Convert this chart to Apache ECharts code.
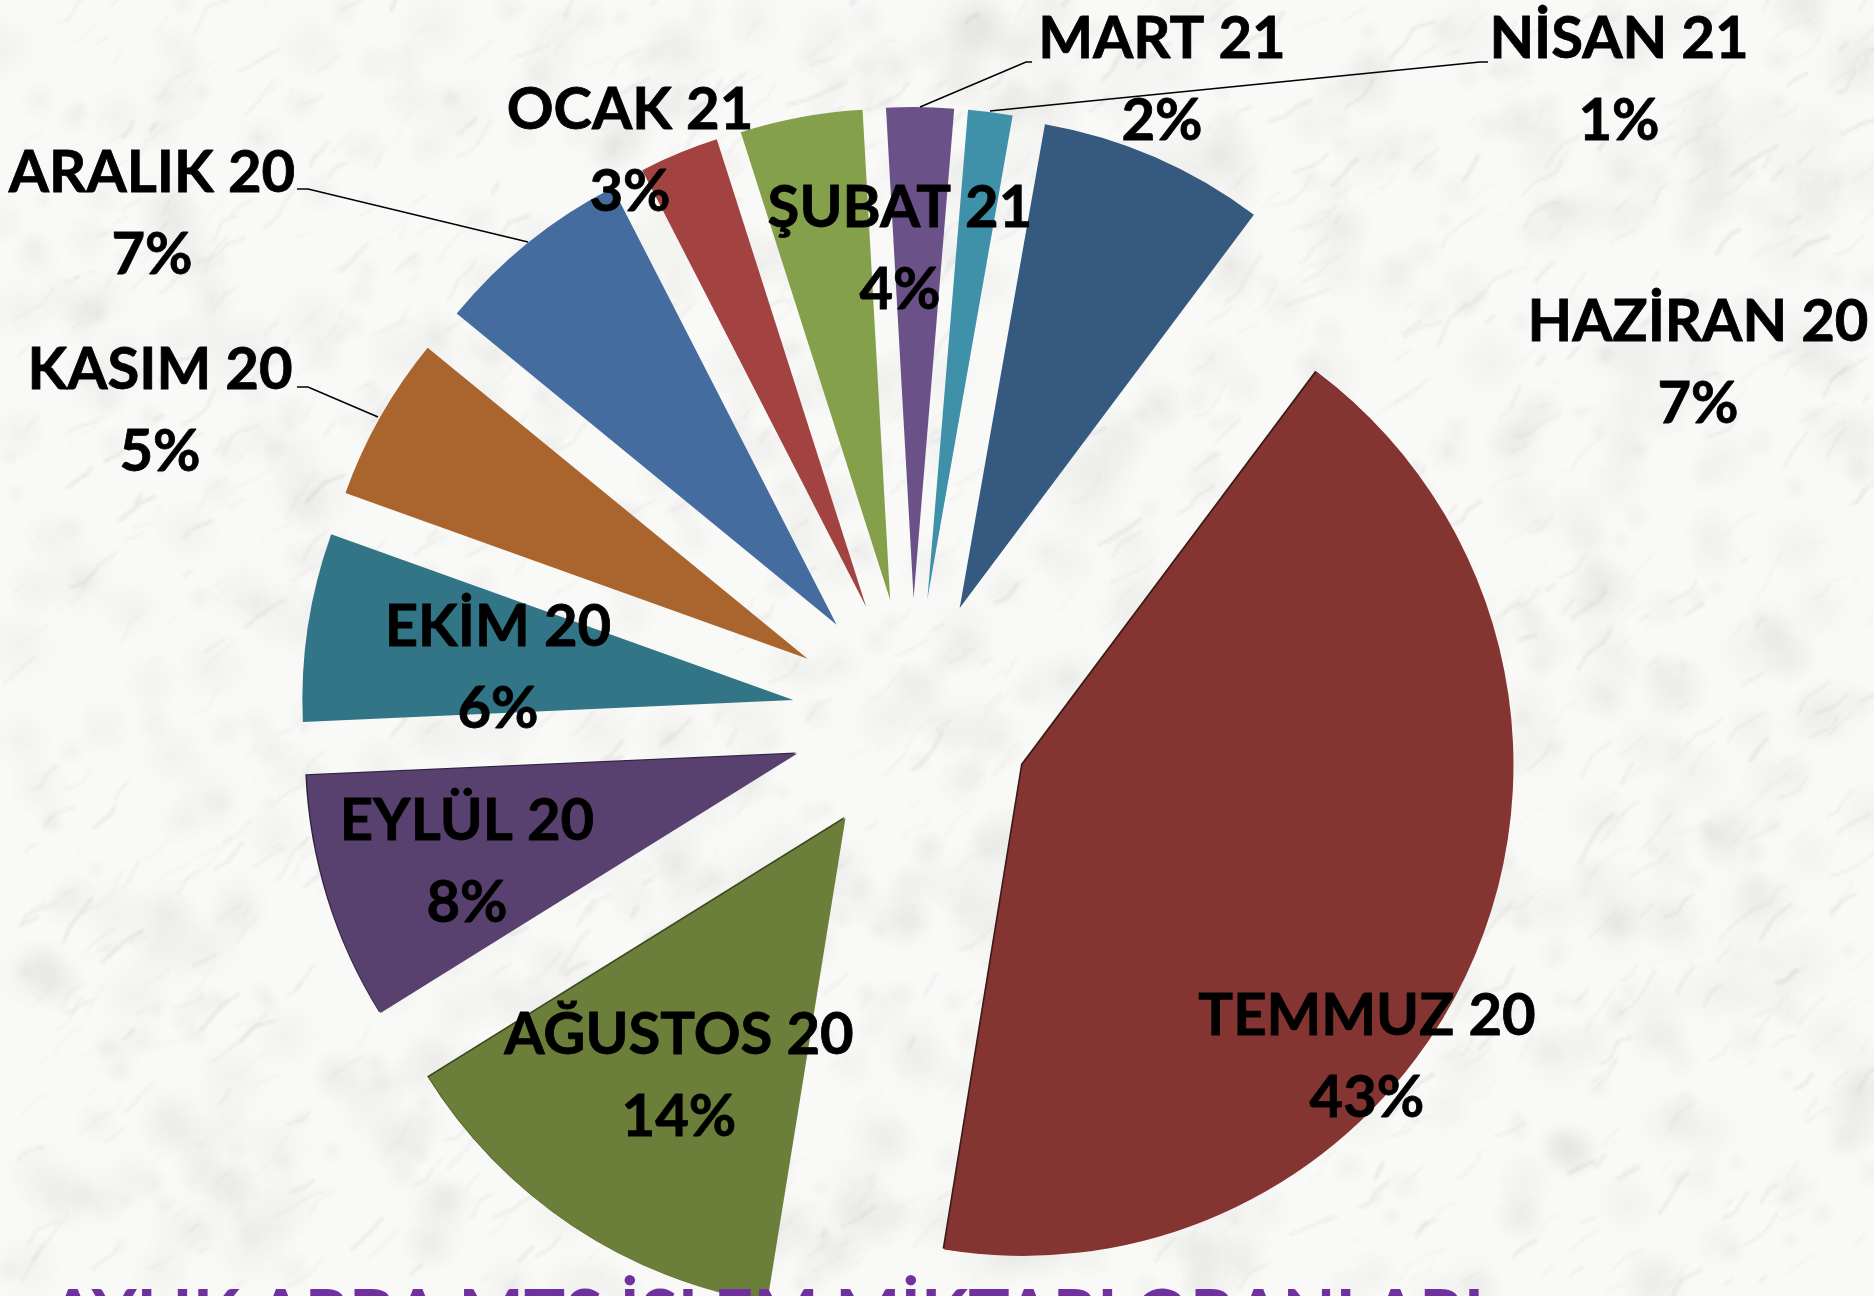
<!DOCTYPE html>
<html>
<head>
<meta charset="utf-8">
<title>AYLIK ARBA MTS İŞLEM MİKTARI ORANLARI</title>
<style>
  html, body { margin: 0; padding: 0; background: #f6f6f5; overflow: hidden; }
  #chart { width: 1874px; height: 1296px; }
</style>
<script src="https://cdn.jsdelivr.net/npm/echarts@6/dist/echarts.min.js"></script>
</head>
<body>
<div id="chart"></div>
<script>
// Values, clockwise from HAZİRAN 20
const months = ['HAZİRAN 20', 'TEMMUZ 20', 'AĞUSTOS 20', 'EYLÜL 20', 'EKİM 20', 'KASIM 20', 'ARALIK 20', 'OCAK 21', 'ŞUBAT 21', 'MART 21', 'NİSAN 21']
const shares = [7.4, 42.05, 13.5, 8.1, 6.15, 5.4, 6.5, 2.6, 4.0, 2.2, 1.45]
const percentLabels = [7, 43, 14, 8, 6, 5, 7, 3, 4, 2, 1]

const colors = ['#36597f', '#843532', '#6b7f3a', '#58406f', '#317587', '#a9652d', '#446c9f', '#a34341', '#84a04a', '#6a5289', '#3f91a9']
// only the three big lower slices have the dark edge
const edgeColors = { 1: '#3d1b1a', 2: '#3c4a20', 3: '#2e2140' }

// where the labels were placed by hand in the original, same order as months
const labelCenters = [
  [1698, 363], [1367, 1057], [679, 1076], [467, 862], [498, 668], [160, 411],
  [152, 214], [630, 151], [900, 249], [1162, 80], [1619, 80]
]
const leaderLines = [
  [[528, 242], [308, 189], [297, 189]],
  [[378, 417], [308, 387], [297, 387]],
  [[920, 107], [1026, 62], [1032, 62]],
  [[990, 111], [1480, 62], [1488, 62]]
]

// marble-ish background, only a texture. Drawn small and scaled up so it comes out soft
const makeMarble = () => {
  const small = document.createElement('canvas')
  small.width = 625
  small.height = 432
  const ctx = small.getContext('2d')
  let seed = 20210
  const rnd = () => {
    seed = (seed * 16807) % 2147483647
    return seed / 2147483647
  }
  ctx.fillStyle = '#f9f9f8'
  ctx.fillRect(0, 0, small.width, small.height)
  for (let i = 0; i < 1100; i++) {
    const x = rnd() * small.width
    const y = rnd() * small.height
    const r = 3 + rnd() * 11
    const g = ctx.createRadialGradient(x, y, 0, x, y, r)
    g.addColorStop(0, 'rgba(195,195,190,0.14)')
    g.addColorStop(1, 'rgba(195,195,190,0)')
    ctx.fillStyle = g
    ctx.fillRect(x - r, y - r, r * 2, r * 2)
  }
  ctx.lineCap = 'round'
  for (let i = 0; i < 1300; i++) {
    let x = rnd() * small.width
    let y = rnd() * small.height
    ctx.beginPath()
    ctx.moveTo(x, y)
    const steps = 1 + Math.floor(rnd() * 3)
    for (let s = 0; s < steps; s++) {
      const a = -0.72 + (rnd() - 0.5) * 0.9
      const d = 2 + rnd() * 6
      x += Math.cos(a) * d
      y += Math.sin(a) * d
      ctx.lineTo(x, y)
    }
    ctx.strokeStyle = 'rgba(185,185,180,' + (0.06 + rnd() * 0.2) + ')'
    ctx.lineWidth = 0.4 + rnd() * 0.8
    ctx.stroke()
  }
  const c = document.createElement('canvas')
  c.width = 1874
  c.height = 1296
  const big = c.getContext('2d')
  big.imageSmoothingEnabled = true
  big.imageSmoothingQuality = 'high'
  big.drawImage(small, 0, 0, c.width, c.height)
  return c
}

const labelFont = 'bold 58px Lato'

const labelGraphics = months.map((name, i) => ({
  type: 'text',
  z: 10,
  silent: true,
  x: labelCenters[i][0],
  y: labelCenters[i][1],
  style: {
    text: name + '\n' + percentLabels[i] + '%',
    font: labelFont,
    lineHeight: 82,
    align: 'center',
    verticalAlign: 'middle',
    fill: '#000',
    stroke: '#000',
    lineWidth: 0.8
  }
}))

const leaderGraphics = leaderLines.map((points) => ({
  type: 'polyline',
  z: 10,
  silent: true,
  shape: { points },
  style: { stroke: '#000', lineWidth: 1.5, fill: null }
}))

const chart = echarts.init(document.getElementById('chart'))

chart.setOption({
  animation: false,
  backgroundColor: { image: makeMarble(), repeat: 'no-repeat' },
  title: {
    text: 'AYLIK ARBA MTS İŞLEM MİKTARI ORANLARI',
    left: 44,
    top: 1277,
    textStyle: { color: '#7030a0', fontFamily: 'Lato', fontWeight: 700, fontSize: 69 }
  },
  graphic: [...leaderGraphics, ...labelGraphics],
  series: [
    {
      type: 'pie',
      center: [912, 718],
      radius: [0, 491],
      startAngle: 80,
      clockwise: true,
      selectedMode: 'multiple',
      selectedOffset: 120,
      silent: true,
      label: { show: false },
      labelLine: { show: false },
      data: months.map((name, i) => {
        const itemStyle = { color: colors[i] }
        if (edgeColors[i]) {
          itemStyle.shadowColor = edgeColors[i]
          itemStyle.shadowOffsetX = -1.5
          itemStyle.shadowOffsetY = -1
        }
        return { name, value: shares[i], selected: true, itemStyle, select: { itemStyle } }
      })
    }
  ]
})

window.addEventListener('resize', () => chart.resize())
</script>
</body>
</html>
